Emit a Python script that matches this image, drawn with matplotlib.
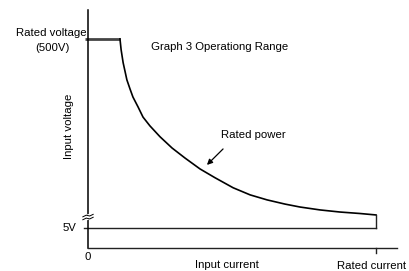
import matplotlib
matplotlib.use("Agg")
import matplotlib.pyplot as plt

plt.rcParams['font.family'] = ['Liberation Sans', 'DejaVu Sans']

# Data (current in % of rated current, voltage in display units where 500 = rated)
rated_current = 100
rated_voltage = 500
low_voltage = 48          # display position of the 5V level (broken axis)
flat_current = [-1, 11.1]
curve_current = [11.1, 11.5, 12.2, 12.9, 13.5, 14.6, 15.6, 17.4, 19.1, 21.5, 25.0,
                 29.2, 33.7, 38.9, 44.1, 50.4, 56.3, 62.2, 68.4, 73.6, 80.6, 87.5,
                 94.4, 100.0]
curve_voltage = [500, 474, 443, 421, 402, 380, 361, 337, 313, 292, 266,
                 239, 215, 189, 168, 144, 127, 115, 105, 98, 91, 86,
                 82.5, 79]
x_max = 107.3
y_max = 569

W, H = 409, 271
fig = plt.figure(figsize=(W / 100, H / 100), dpi=100)

def fx(px):
    return px / W

def fy(py):
    return 1 - py / H

ax = fig.add_axes([fx(88), fy(248), fx(397) - fx(88), fy(10) - fy(248)])
ax.set_xlim(0, x_max)
ax.set_ylim(0, y_max)
for s in ['top', 'right']:
    ax.spines[s].set_visible(False)
ax.spines['left'].set_linewidth(1.1)
ax.spines['left'].set_color('black')
ax.spines['bottom'].set_linewidth(1.0)
ax.spines['bottom'].set_color('#222222')
ax.set_xticks([])
ax.set_yticks([])

# rated voltage plateau
ax.plot(flat_current, [rated_voltage, rated_voltage], color='#444444', lw=2.0,
        clip_on=False, solid_capstyle='butt')
# rated power curve
ax.plot(curve_current, curve_voltage, color='black', lw=1.2,
        solid_joinstyle='round')
# right vertical edge and 5V line
ax.plot([rated_current, rated_current], [low_voltage, curve_voltage[-1]],
        color='#222222', lw=1.0)
ax.plot([-1.4, rated_current], [low_voltage, low_voltage], color='#222222', lw=1.0,
        clip_on=False)
# rated current tick
ax.plot([rated_current, rated_current], [0, -12], color='#222222', lw=1.0, clip_on=False)

# axis break symbol
by = 74
ax.plot([-1.5, 1.5], [by - 3, by + 3], color='white', lw=4, clip_on=False, zorder=5)
for off in (-3.5, 3.5):
    xs = [-1.8, -0.6, 0.6, 1.8]
    ys = [by + off - 3, by + off + 1, by + off - 1, by + off + 3]
    ax.plot(xs, ys, color='black', lw=0.7, clip_on=False, zorder=6)

# arrow for rated power
ax.annotate('', xy=(41.3, 198.6), xytext=(46.9, 236.8),
            arrowprops=dict(arrowstyle='-|>', color='black', lw=0.9,
                            mutation_scale=8, shrinkA=0, shrinkB=0))

fs = 8.2
fig.text(fx(51), fy(33), 'Rated voltage', ha='center', va='center', fontsize=fs)
fig.text(fx(52), fy(48), '(500V)', ha='center', va='center', fontsize=fs)
fig.text(fx(220), fy(47), 'Graph 3 Operationg Range', ha='center', va='center', fontsize=fs)
fig.text(fx(253), fy(135), 'Rated power', ha='center', va='center', fontsize=fs)
fig.text(fx(69), fy(126), 'Input voltage', ha='center', va='center', fontsize=fs,
         rotation=90)
fig.text(fx(76), fy(228), '5V', ha='right', va='center', fontsize=fs)
fig.text(fx(88), fy(257), '0', ha='center', va='center', fontsize=fs)
fig.text(fx(227), fy(265.5), 'Input current', ha='center', va='center', fontsize=fs)
fig.text(fx(372), fy(266), 'Rated current', ha='center', va='center', fontsize=fs)

fig.savefig('out.png', dpi=100, facecolor='white')
